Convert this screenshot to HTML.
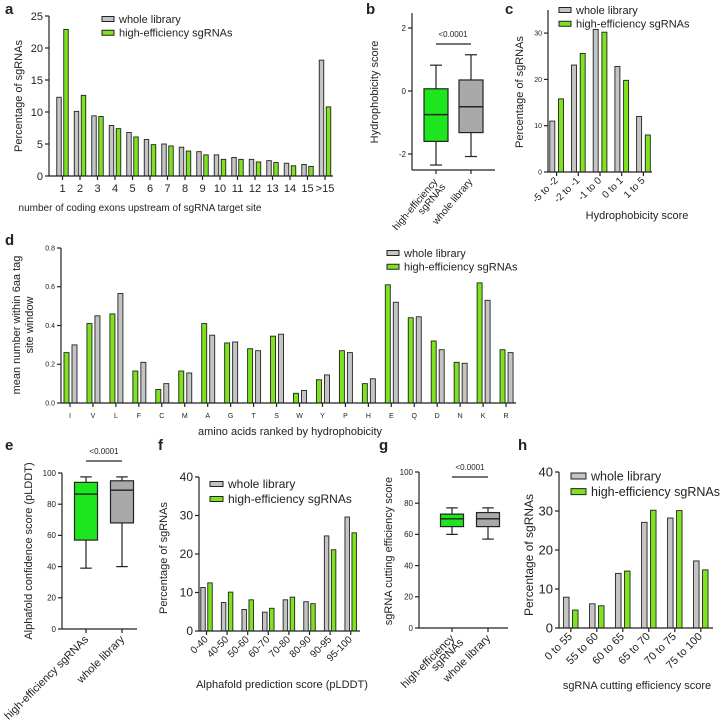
<!DOCTYPE html>
<html><head><meta charset="utf-8"><style>
body{margin:0;background:#fff}
svg{display:block;font-family:"Liberation Sans",Arial,sans-serif}
</style></head><body>
<svg id="fig" width="722" height="722" viewBox="0 0 722 722"></svg>
<script>
// ---- data ----
const aCats=["1","2","3","4","5","6","7","8","9","10","11","12","13","14","15",">15"];
const aWhole=[12.3,10.1,9.4,7.9,6.8,5.7,5.0,4.5,3.8,3.3,2.9,2.6,2.4,2.0,1.8,18.1];
const aHigh=[22.9,12.6,9.3,7.4,6.1,4.9,4.7,3.9,3.3,2.6,2.6,2.2,2.1,1.6,1.5,10.8];
const aTicks=[0,5,10,15,20,25];
const bHigh=[-2.35,-1.6,-0.75,0.07,0.82];
const bWhole=[-2.08,-1.32,-0.5,0.35,1.15];
const bTicks=[-2,0,2];
const cCats=["-5 to -2","-2 to -1","-1 to 0","0 to 1","1 to 5"];
const cWhole=[11,23.1,30.8,22.8,12];
const cHigh=[15.8,25.6,30.2,19.8,8];
const cTicks=[0,10,20,30];
const dCats=["I","V","L","F","C","M","A","G","T","S","W","Y","P","H","E","Q","D","N","K","R"];
const dHigh=[0.26,0.41,0.46,0.165,0.07,0.165,0.41,0.31,0.28,0.345,0.05,0.12,0.27,0.10,0.61,0.44,0.32,0.21,0.62,0.275];
const dWhole=[0.30,0.45,0.565,0.21,0.10,0.155,0.35,0.315,0.27,0.355,0.065,0.145,0.26,0.125,0.52,0.445,0.275,0.205,0.53,0.26];
const dTicks=[0,0.2,0.4,0.6,0.8];
const dTickLabels=["0.0","0.2","0.4","0.6","0.8"];
const eHigh=[39,57,86.5,94,97.5];
const eWhole=[40,68,89,95,97.5];
const eTicks=[0,20,40,60,80,100];
const fCats=["0-40","40-50","50-60","60-70","70-80","80-90","90-95","95-100"];
const fWhole=[11.3,7.4,5.6,4.9,8.1,7.6,24.7,29.6];
const fHigh=[12.5,10.1,8.1,5.9,8.8,7.1,21.1,25.5];
const fTicks=[0,10,20,30,40];
const gHigh=[60,65,70,73,77];
const gWhole=[57,65,70,74,77];
const gTicks=[0,20,40,60,80,100];
const hCats=["0 to 55","55 to 60","60 to 65","65 to 70","70 to 75","75 to 100"];
const hWhole=[7.9,6.2,14,27.1,28.2,17.2];
const hHigh=[4.6,5.7,14.6,30.2,30.1,14.9];
const hTicks=[0,10,20,30,40];

const NS="http://www.w3.org/2000/svg";
const svg=document.getElementById('fig');
const GRAY="#c4c4c4", LIME="#7ee21e", BOXG="#1ee61e", BOXGRAY="#a9a9a9", INK="#222";
function el(tag,attrs,parent){const e=document.createElementNS(NS,tag);for(const k in attrs)e.setAttribute(k,attrs[k]);(parent||svg).appendChild(e);return e;}
function txt(x,y,s,size,anchor,rot,parent,weight){
  const t=el('text',{x:x,y:y,'font-size':size,'text-anchor':anchor||'middle',fill:INK},parent);
  if(rot)t.setAttribute('transform','rotate('+rot+' '+x+' '+y+')');
  if(weight)t.setAttribute('font-weight',weight);
  t.textContent=s;return t;}
function grp(name){const g=el('g',{});
  
  
  return g;}
function line(x1,y1,x2,y2,p,w){return el('line',{x1:x1,y1:y1,x2:x2,y2:y2,stroke:INK,'stroke-width':w||1.2},p);}

function yAxis(g,ax,yTop,yBot,y0,k,ticks,labels,fs){
  const a=line(ax,yTop,ax,yBot,g);
  
  
  ticks.forEach((v,i)=>{const y=y0-v*k;line(ax-4,y,ax,y,g);
    const t=txt(ax-6,y+fs*0.35,labels?labels[i]:String(v),fs,'end',0,g);
    
    });
}
function legend(g,x,y,fs,bw,bh){
  const r1=el('rect',{x:x,y:y-bh/2,width:bw,height:bh,fill:GRAY,stroke:INK,'stroke-width':1},g);
  
  
  const t1=txt(x+bw+5,y+fs*0.35,'whole library',fs,'start',0,g);
  
  
  const dy=fs*1.25;
  const r2=el('rect',{x:x,y:y+dy-bh/2,width:bw,height:bh,fill:LIME,stroke:INK,'stroke-width':1},g);
  
  
  const t2=txt(x+bw+5,y+dy+fs*0.35,'high-efficiency sgRNAs',fs,'start',0,g);
  
  
}
function bars(g,cats,series,o){
  cats.forEach((c,i)=>{
    const t=o.first+i*o.step;
    series.forEach(s=>{
      const h=s.vals[i]*o.k;
      const r=el('rect',{x:t+s.off-o.w/2,y:o.y0-h,width:o.w,height:h,fill:s.color,stroke:INK,'stroke-width':0.9},g);
      
      
    });
    const tp=t+(o.tickOff||0);
    line(tp,o.y0,tp,o.y0+4,g);
    let lab;
    if(o.rot){lab=txt(tp+2,o.y0+o.ly,c,o.fs,'end',-45,g);}
    else{lab=txt(tp,o.y0+o.ly,c,o.fs,'middle',0,g);}
    
    
  });
  const xa=line(o.ax,o.y0,o.xEnd,o.y0,g);
  
  
}
function box(g,cx,w,st,y0,k,fill,name){
  const Y=v=>y0-v*k;
  line(cx,Y(st[0]),cx,Y(st[1]),g);line(cx,Y(st[3]),cx,Y(st[4]),g);
  line(cx-w/4,Y(st[0]),cx+w/4,Y(st[0]),g);line(cx-w/4,Y(st[4]),cx+w/4,Y(st[4]),g);
  const r=el('rect',{x:cx-w/2,y:Y(st[3]),width:w,height:Y(st[1])-Y(st[3]),fill:fill,stroke:INK,'stroke-width':1.2},g);
  
  
  line(cx-w/2,Y(st[2]),cx+w/2,Y(st[2]),g,1.4);
}
function panelLabel(x,y,s){const t=txt(x,y,s,15,'start',0,svg,'bold');
  
  }

// ---- panel a ----
(function(){const g=grp('panel-a');const y0=176,k=6.4;
  yAxis(g,49,16,y0,y0,k,aTicks,null,11);
  bars(g,aCats,[{vals:aWhole,color:GRAY,off:-3.5,name:'whole'},{vals:aHigh,color:LIME,off:3.5,name:'high'}],
    {first:62.5,step:17.5,w:4.5,k:k,y0:y0,ax:49,xEnd:333,ly:16,fs:11});
  const yt=txt(22,96,'Percentage of sgRNAs',11,'middle',-90,g);
  
  
  const xt=txt(140,211,'number of coding exons upstream of sgRNA target site',10,'middle',0,g);
  
  
  legend(g,102,19,11,12,5);
})();
panelLabel(5,14,'a');

// ---- panel b ----
(function(){const g=grp('panel-b');const y0=91,k=31.5;
  yAxis(g,412,13,170,y0,k,bTicks,null,8);
  const xa=line(412,170,495,170,g);
  
  
  box(g,436,24,bHigh,y0,k,BOXG,'high-efficiency');
  box(g,471,24,bWhole,y0,k,BOXGRAY,'whole-library');
  line(436,170,436,174,g);line(471,170,471,174,g);
  line(436,44,471,44,g);
  const p=txt(453,37,'<0.0001',8,'middle',0,g);
  
  
  txt(438,182,'high-efficiency',10,'end',-50,g);
  txt(446,187,'sgRNAs',10,'end',-50,g);
  txt(473,182,'whole library',10,'end',-50,g);
  const yt=txt(378,92,'Hydrophobicity score',11,'middle',-90,g);
  
  
})();
panelLabel(366,14,'b');

// ---- panel c ----
(function(){const g=grp('panel-c');const y0=172,k=4.63;
  yAxis(g,548,10,y0,y0,k,cTicks,null,7);
  bars(g,cCats,[{vals:cWhole,color:GRAY,off:0,name:'whole'},{vals:cHigh,color:LIME,off:8.7,name:'high'}],
    {first:552.3,step:21.7,w:5,k:k,y0:y0,ax:548,xEnd:652,ly:9,fs:10,rot:true,tickOff:4.3});
  const yt=txt(523,92,'Percentage of sgRNAs',11,'middle',-90,g);
  
  
  const xt=txt(637,219,'Hydrophobicity score',11,'middle',0,g);
  
  
  legend(g,559,10,11,12,5);
})();
panelLabel(505,14,'c');

// ---- panel d ----
(function(){const g=grp('panel-d');const y0=403,k=193.75;
  yAxis(g,61,248,y0,y0,k,dTicks,dTickLabels,7);
  bars(g,dCats,[{vals:dHigh,color:LIME,off:-3.5,name:'high'},{vals:dWhole,color:GRAY,off:4.5,name:'whole'}],
    {first:70,step:22.95,w:5,k:k,y0:y0,ax:61,xEnd:516,ly:15,fs:7});
  const yt=txt(20,325,'mean number within 6aa tag',11,'middle',-90,g);
  
  
  txt(33,325,'site window',11,'middle',-90,g);
  const xt=txt(290,435,'amino acids ranked by hydrophobicity',11,'middle',0,g);
  
  
  legend(g,387,253,11,12,5);
})();
panelLabel(5,245,'d');

// ---- panel e ----
(function(){const g=grp('panel-e');const y0=629,k=1.56;
  yAxis(g,62,473,y0,y0,k,eTicks,null,8);
  const xa=line(62,629,137,629,g);
  
  
  box(g,86,23,eHigh,y0,k,BOXG,'high-efficiency');
  box(g,122,23,eWhole,y0,k,BOXGRAY,'whole-library');
  line(86,629,86,633,g);line(122,629,122,633,g);
  line(86,461,122,461,g);
  const p=txt(104,454,'<0.0001',8,'middle',0,g);
  
  
  txt(89,640,'high-efficiency sgRNAs',11,'end',-45,g);
  txt(125,640,'whole library',11,'end',-45,g);
  const yt=txt(32,551,'Alphafold confidence score (pLDDT)',11,'middle',-90,g);
  
  
})();
panelLabel(5,450,'e');

// ---- panel f ----
(function(){const g=grp('panel-f');const y0=631,k=3.85;
  yAxis(g,199,477,y0,y0,k,fTicks,null,12);
  bars(g,fCats,[{vals:fWhole,color:GRAY,off:0,name:'whole'},{vals:fHigh,color:LIME,off:7,name:'high'}],
    {first:203,step:20.6,w:4.5,k:k,y0:y0,ax:199,xEnd:360,ly:9,fs:10,rot:true,tickOff:3.5});
  const yt=txt(167,558,'Percentage of sgRNAs',11,'middle',-90,g);
  
  
  const xt=txt(282,688,'Alphafold prediction score (pLDDT)',11,'middle',0,g);
  
  
  legend(g,210,484,12,13,5);
})();
panelLabel(158,450,'f');

// ---- panel g ----
(function(){const g=grp('panel-g');const y0=628,k=1.56;
  yAxis(g,419,472,y0,y0,k,gTicks,null,8);
  const xa=line(419,628,508,628,g);
  
  
  box(g,452,23,gHigh,y0,k,BOXG,'high-efficiency');
  box(g,488,23,gWhole,y0,k,BOXGRAY,'whole-library');
  line(452,628,452,632,g);line(488,628,488,632,g);
  line(452,477,488,477,g);
  const p=txt(470,470,'<0.0001',8,'middle',0,g);
  
  
  txt(455,639,'high-efficiency',11,'end',-45,g);
  txt(464,643,'sgRNAs',11,'end',-45,g);
  txt(491,639,'whole library',11,'end',-45,g);
  const yt=txt(392,551,'sgRNA cutting efficiency score',11,'middle',-90,g);
  
  
})();
panelLabel(379,450,'g');

// ---- panel h ----
(function(){const g=grp('panel-h');const y0=628,k=3.9;
  yAxis(g,559,472,y0,y0,k,hTicks,null,13);
  bars(g,hCats,[{vals:hWhole,color:GRAY,off:0,name:'whole'},{vals:hHigh,color:LIME,off:9,name:'high'}],
    {first:566.3,step:26,w:5.5,k:k,y0:y0,ax:559,xEnd:713,ly:9,fs:11,rot:true,tickOff:4.5});
  const yt=txt(533,555,'Percentage of sgRNAs',12,'middle',-90,g);
  
  
  const xt=txt(637,689,'sgRNA cutting efficiency score',11,'middle',0,g);
  
  
  legend(g,571,476,12.5,15,6);
})();
panelLabel(518,450,'h');
</script>
</body></html>
